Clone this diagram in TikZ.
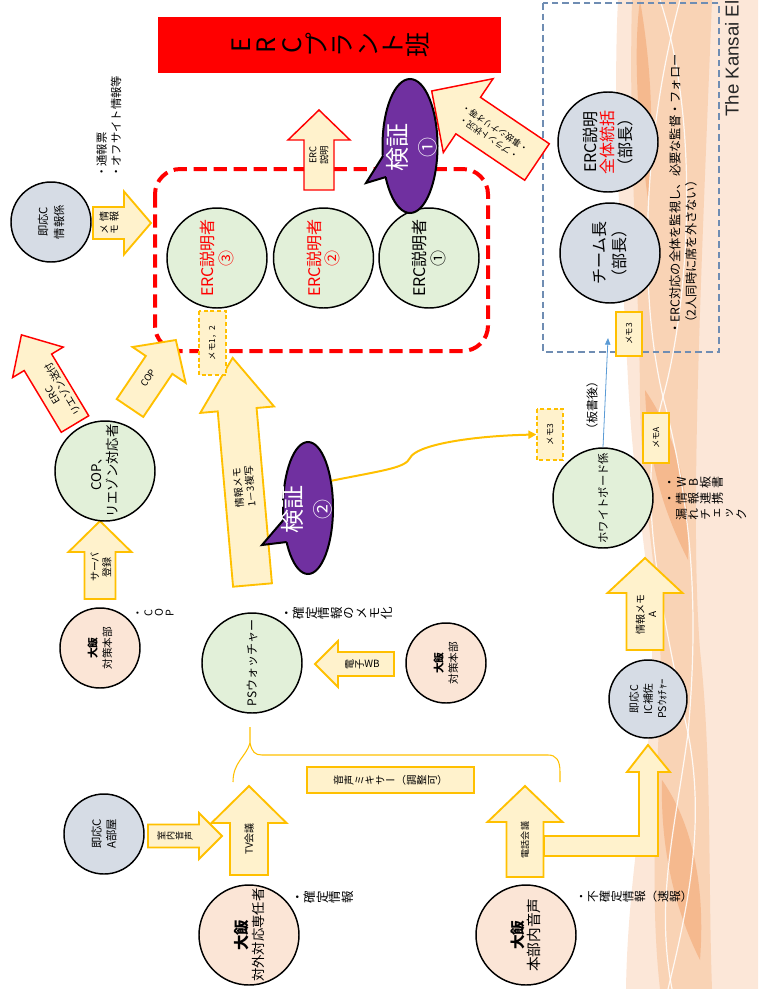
\documentclass[tikz,border=0pt]{standalone}
\usepackage{fontspec}
\usepackage{graphicx}
\setmainfont{Noto Sans CJK JP}
\newfontfamily\vjp{Noto Sans CJK JP}[RawFeature=+vert]
\newfontfamily\latfont{Liberation Sans}
\usetikzlibrary{arrows.meta,shapes.geometric}
\definecolor{cy}{HTML}{FFF2CC}
\definecolor{cyb}{HTML}{FFC000}
\definecolor{cg}{HTML}{E2F0D9}
\definecolor{cb}{HTML}{D6DCE5}
\definecolor{cp}{HTML}{FBE5D6}
\definecolor{cpur}{HTML}{7030A0}
\definecolor{cblue}{HTML}{5B9BD5}
\definecolor{cbox}{HTML}{6F8DB3}
\definecolor{bgA}{HTML}{FCE7D8}
\definecolor{bgB}{HTML}{F9D3B5}
\definecolor{bgC}{HTML}{F5B98E}
\ExplSyntaxOn
\NewDocumentCommand\tcolitems{m}{\tl_map_inline:nn{#1}{\hbox~to~1em{\hss\vrule~height~.88em~depth~.12em~width~0pt~##1\hss}}}
\ExplSyntaxOff
\newcommand\tcol[1]{\vtop{\offinterlineskip\vjp\tcolitems{#1}}}
\newcommand\blockarr[7]{\begin{scope}[shift={#2},rotate=#3]
\path[#1] (0,{-(#5)/2}) -- ({#4-#7},{-(#5)/2}) -- ({#4-#7},{-(#6)/2}) -- (#4,0) -- ({#4-#7},{(#6)/2}) -- ({#4-#7},{(#5)/2}) -- (0,{(#5)/2}) -- cycle;
\end{scope}}
\begin{document}
\begin{tikzpicture}[x=0.75pt,y=-0.75pt,
  circ/.style={circle, draw=black, line width=1.1pt, inner sep=0pt, align=center, rotate=90},
  bigc/.style={circ, minimum size=75pt},
  smc/.style={circ, minimum size=60pt},
  yarr/.style={fill=cy, draw=cyb, line width=1.4pt},
  rarr/.style={fill=cy, draw=red, line width=1.1pt},
  atext/.style={inner sep=0pt, align=center, font=\fontsize{7.5}{9}\selectfont},
  memo/.style={fill=cy, draw=cyb, line width=0.9pt, rotate=90, inner sep=0pt, font=\fontsize{6.3}{7}\selectfont},
  memod/.style={memo, dash pattern=on 3pt off 2pt},
  bub/.style={ellipse, fill=cpur, draw=black, line width=1.5pt, inner sep=0pt},
  bubtext/.style={rotate=90, inner sep=0pt, text=white, align=center, font=\fontsize{18}{22}\selectfont},
  vnote/.style={rotate=90, inner sep=0pt},
  note/.style={inner sep=0pt, align=left},
  tail/.style={line width=1.5pt, line join=miter}
]
\useasboundingbox (0,0) rectangle (758,989);
\clip (0,0) rectangle (758,989);
% ---------- background band
\fill[bgA] (618,0) .. controls (612,120) and (622,260) .. (628,380) .. controls (634,500) and (650,560) .. (652,650) .. controls (654,760) and (628,860) .. (626,989) -- (758,989) -- (758,0) -- cycle;
\fill[bgB] (632,0) .. controls (628,150) and (640,300) .. (640,400) .. controls (642,520) and (665,600) .. (660,700) .. controls (656,800) and (650,900) .. (660,989) -- (712,989) .. controls (708,880) and (712,760) .. (700,650) .. controls (690,520) and (700,300) .. (712,0) -- cycle;
\fill[bgC] (645,390) .. controls (665,420) and (692,470) .. (688,560) .. controls (668,520) and (648,470) .. cycle;
\fill[bgC] (662,780) .. controls (690,820) and (706,880) .. (700,960) .. controls (680,920) and (660,860) .. cycle;
\fill[bgC] (640,0) .. controls (650,60) and (655,120) .. (648,200) .. controls (640,140) and (632,60) .. cycle;
\draw[white, line width=0.9pt, opacity=.85] (680,0) .. controls (640,150) and (640,300) .. (663,397) .. controls (690,500) and (700,600) .. (688,733) .. controls (675,830) and (655,900) .. (672,989);
\draw[white, line width=0.9pt, opacity=.85] (660,0) .. controls (700,120) and (690,300) .. (663,397) .. controls (640,480) and (650,560) .. (688,733) .. controls (705,820) and (690,900) .. (668,989);
% ---------- frames
\draw[cbox, line width=1pt, dash pattern=on 5pt off 3pt] (543,3) rectangle (719,352);
\draw[red, line width=3pt, dash pattern=on 10pt off 5pt, rounded corners=19pt] (155,169) rectangle (488,351);
% ---------- title
\node[fill=red, rotate=90, minimum width=42pt, minimum height=257.25pt, inner sep=0pt, font=\fontsize{19}{20}\selectfont] (plant) at (329.5,45) {\tcol{ERCプラント班}};
% ---------- block arrows
\blockarr{rarr}{(319,190)}{90}{80}{30}{62}{30}
\node[atext, rotate=90, font=\fontsize{7}{8.5}\selectfont] (aexp) at (319,155) {ERC\\説明};
\blockarr{rarr}{(537,162)}{146}{127}{44}{89}{44}
\node[atext, rotate=146, font=\fontsize{6.5}{8.5}\selectfont] (arep) at (492,133) {・プラント状況・\\・事故シナリオ等・};
\blockarr{yarr}{(93,223)}{0}{58}{32}{63}{27}
\node[vnote, font=\fontsize{7.5}{8.5}\selectfont] (amemo) at (109,223) {\hbox{\tcol{メモ}\kern2pt\tcol{情報}}};
\blockarr{rarr}{(75,424)}{121}{104}{32}{59}{32}
\node[atext, rotate=121] (aliai) at (58,392) {ERC\\リエゾン送付};
\blockarr{yarr}{(130,408)}{56}{82}{32}{64}{30}
\node[atext, rotate=56, font=\fontsize{7}{8}\selectfont] (acop) at (148,378) {COP};
\blockarr{yarr}{(252.5,585)}{95}{228}{39}{74}{52}
\node[atext, rotate=95] (ainfo) at (244,487) {情報メモ\\1－3複写};
\blockarr{yarr}{(100,599)}{90}{78}{31}{63}{31}
\node[atext, rotate=90] (asrv) at (101,567) {サーバ\\登録};
\blockarr{yarr}{(394,664)}{180}{79}{24}{46}{23}
\node[vnote, font=\fontsize{7.5}{8.5}\selectfont] (aewb) at (362,664) {\vtop{\offinterlineskip\vjp\tcolitems{電子}\hbox to 1em{\hss\rotatebox{-90}{WB}\hss}}};
\blockarr{yarr}{(148,836)}{0}{74}{23}{46}{23}
\node[vnote, font=\fontsize{6.8}{8}\selectfont] (aroom) at (175,836) {\tcol{室内音声}};
\blockarr{yarr}{(249,875)}{90}{89}{38}{75}{37}
\node[atext, rotate=90] (atv) at (249,839) {TV会議};
\path[yarr] (544,836) -- (639,836) -- (639,772) -- (627,772) -- (648,745) -- (670,772) -- (658,772) -- (658,856) -- (544,856) -- cycle;
\blockarr{yarr}{(525,877)}{90}{91}{37}{75}{36}
\node[atext, rotate=90, font=\fontsize{6.8}{8}\selectfont] (atel) at (525,840) {電話会議};
\blockarr{yarr}{(645,650)}{90}{92}{37}{75}{35}
\node[atext, rotate=90] (ainfoA) at (646,614) {情報メモ\\A};
% ---------- memo boxes
\node[memod, minimum width=48pt, minimum height=20.25pt] (m12) at (212.5,343) {メモ1，2};
\node[memod, minimum width=38.25pt, minimum height=19.5pt] (m3a) at (550,434.5) {メモ3};
\node[memo, minimum width=37.5pt, minimum height=19.5pt] (mA) at (656,438) {メモA};
\node[memo, minimum width=33pt, minimum height=19.5pt] (m3b) at (629,334) {メモ3};
\node[fill=cy, draw=cyb, line width=1.4pt, rotate=90, minimum width=19.5pt, minimum height=125.25pt, inner sep=0pt, font=\fontsize{7.8}{8}\selectfont] (mix) at (390.5,780) {\tcol{音声ミキサー（調整可）}};
% ---------- brace
\draw[cyb, line width=0.8pt] (233,782) .. controls (233,762) and (246,757) .. (250,743) -- (250,727);
\draw[cyb, line width=0.8pt] (250,743) .. controls (252,752) and (255,755) .. (262,755) -- (548,755) .. controls (556,755) and (560,760) .. (560,772) -- (560,782);
% ---------- circles
\node[smc, fill=cb, font=\fontsize{8.5}{12}\selectfont] (sinfo) at (51,222) {即応C\\情報係};
\node[bigc, fill=cg, font=\fontsize{10}{12}\selectfont] (cop) at (105,471) {COP、\\リエゾン対応者};
\node[bigc, fill=cg, text=red, font=\fontsize{12}{14}\selectfont] (e3) at (217,258) {ERC説明者\\③};
\node[bigc, fill=cg, text=red, font=\fontsize{12}{14}\selectfont] (e2) at (323.5,258) {ERC説明者\\②};
\node[bigc, fill=cg, font=\fontsize{12}{14}\selectfont] (e1) at (429,258) {ERC説明者\\①};
\node[smc, fill=cp, font=\fontsize{8}{11}\selectfont] (hq1) at (100,648) {{\bfseries 大飯}\\対策本部};
\node[bigc, fill=cg, font=\fontsize{9}{11}\selectfont] (ps) at (252,663) {PSウォッチャー};
\node[smc, fill=cp, font=\fontsize{8}{11}\selectfont] (hq2) at (446,663) {{\bfseries 大飯}\\対策本部};
\node[smc, fill=cb, font=\fontsize{8.5}{11}\selectfont] (rooma) at (104,834) {即応C\\A部屋};
\node[bigc, fill=cp, font=\fontsize{10}{12}\selectfont] (exo) at (249,935) {{\bfseries\fontsize{11.5}{12}\selectfont 大飯}\\対外対応専任者};
\node[bigc, fill=cp, font=\fontsize{11}{12}\selectfont] (inner) at (526,935) {{\bfseries 大飯}\\本部内音声};
\node[circ, minimum size=58.5pt, fill=cb, font=\fontsize{8}{10.5}\selectfont] (icps) at (648,699) {即応C\\IC補佐\\PSｳｫﾁｬｰ};
\node[bigc, fill=cg, font=\fontsize{8.5}{11}\selectfont] (wb) at (603,498) {ホワイトボード係};
\node[bigc, fill=cb, font=\fontsize{12}{15}\selectfont] (team) at (610,253) {チーム長\\（部長）};
\node[bigc, fill=cb, font=\fontsize{12}{13}\selectfont] (lead) at (608,142) {ERC説明\\{\color{red}全体統括}\\（部長）};
% ---------- bubbles
\node[bub, minimum width=41.25pt, minimum height=100.5pt] (b1) at (410,146) {};
\fill[cpur] (366,183) -- (389.8,145.2) -- (405,150) -- (405,172) -- (396,174) -- cycle;
\draw[tail] (383,156) -- (366,183) -- (386,177);
\node[bubtext] (b1t) at (412,147) {検証\\{\fontsize{15}{22}\selectfont ①}};
\node[bub, minimum width=37.5pt, minimum height=99pt] (b2) at (308,508) {};
\fill[cpur] (262,545) -- (294,507.5) -- (305,515) -- (305,538) -- (299,540.5) -- cycle;
\draw[tail] (283.4,520) -- (262,545) -- (286.6,542);
\node[bubtext] (b2t) at (307,509) {検証\\{\fontsize{15}{22}\selectfont ②}};
% ---------- connectors
\coordinate (btip) at (608,338);
\draw[cblue, line width=0.6pt, -{Triangle[length=5pt,width=4pt]}] (wb.east) -- (btip);
\draw[cyb, line width=1.5pt, -{Triangle[length=6pt,width=6pt]}] (b2.49) .. controls (385,470) and (405,468) .. (410,458) .. controls (416,445) and (470,436) .. (m3a.north);
% ---------- notes
\node[note, rotate=90, anchor=north west, font=\fontsize{8.5}{11}\selectfont] (n1) at (96,178) {・通報票\\・オフサイト情報等};
\node[vnote, anchor=north, font=\fontsize{8}{9}\selectfont] (ncop) at (132,613) {\tcol{・COP}};
\node[vnote, anchor=north, font=\fontsize{9.4}{10}\selectfont] (nps) at (280,613) {\tcol{・確定情報のメモ化}};
\node[vnote, anchor=north, font=\fontsize{9.4}{10}\selectfont] (nexo) at (291,897) {\tcol{・確定情報}};
\node[vnote, anchor=north, font=\fontsize{8.8}{10}\selectfont] (ninner) at (575,897) {\tcol{・不確定情報（速報）}};
\node[vnote, anchor=north east, font=\fontsize{9}{10}\selectfont] (nwb) at (663,476) {\hbox{\tcol{　漏れチェック}\kern3pt\tcol{・情報連携}\kern3pt\tcol{・WB板書}}};
\node[rotate=90, inner sep=0pt, font=\fontsize{9}{10}\selectfont] (nbl) at (592,405) {（板書後）};
\node[note, rotate=90, anchor=north west, font=\fontsize{9.2}{12}\selectfont] (nlead) at (669,335) {・ERC対応の全体を監視し、必要な監督・フォロー\\\hspace{0.5em}（2人同時に席を外さない）};
\node[rotate=90, anchor=west, inner sep=0pt, font=\latfont\fontsize{14}{15}\selectfont, text=black!85] (kansai) at (732,117) {The Kansai El};
\end{tikzpicture}
\end{document}
